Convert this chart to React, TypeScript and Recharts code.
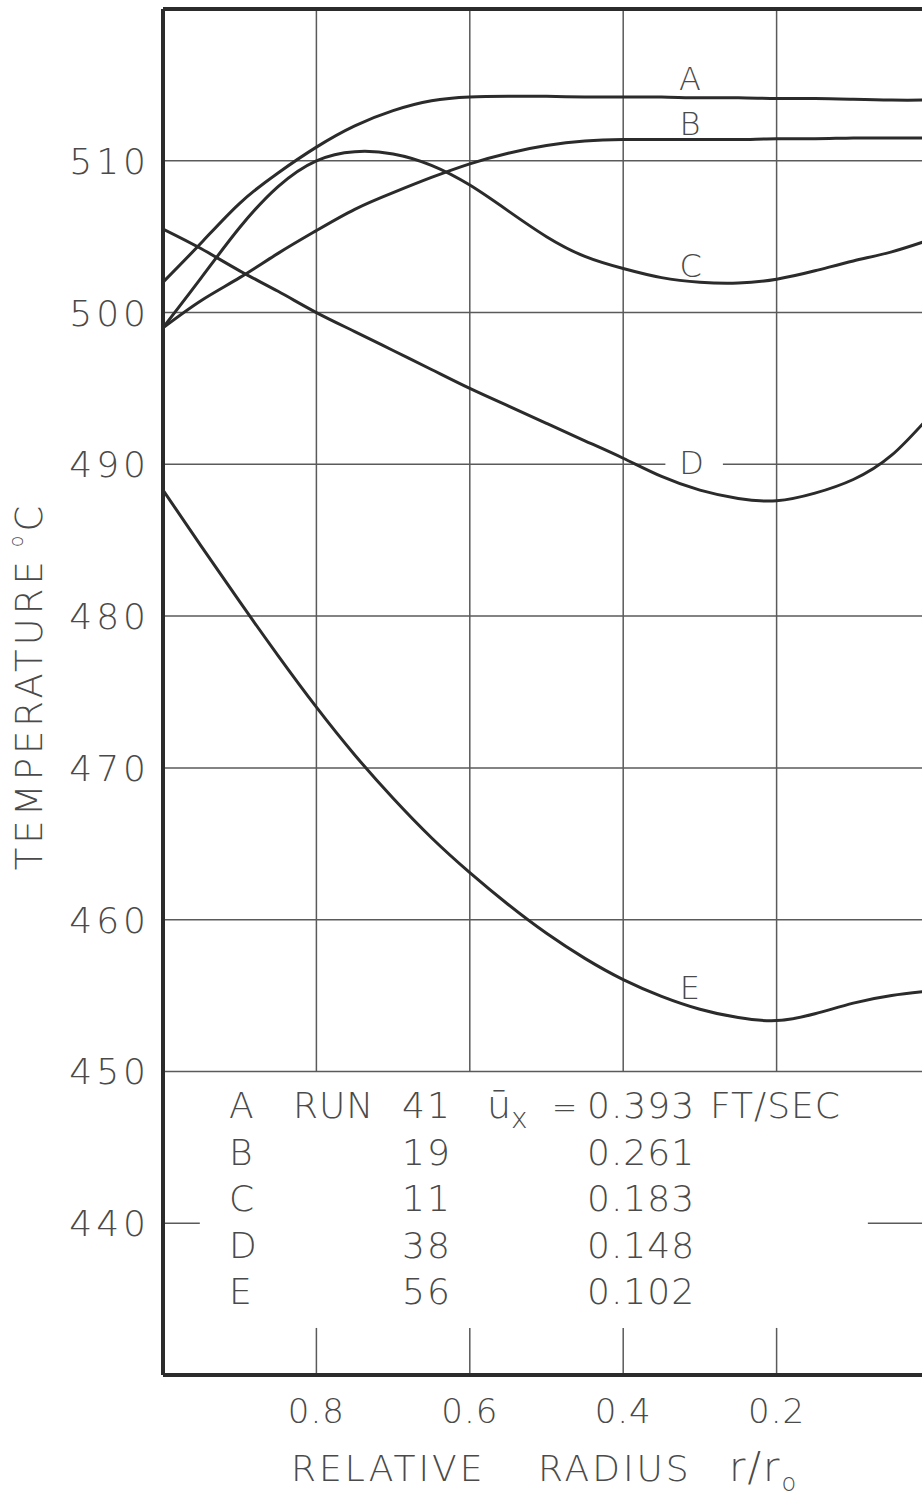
import React from 'react';
import { ComposedChart, Line, Scatter, XAxis, YAxis, ReferenceLine } from 'recharts';

// relative radius r/r0, shared by all five runs (left edge = wall, right = centre)
const radius = [1.0, 0.95, 0.9, 0.85, 0.8, 0.75, 0.7, 0.65, 0.6, 0.55, 0.5, 0.45, 0.4, 0.35, 0.3, 0.25, 0.2, 0.15, 0.1, 0.05, 0.0];

// temperature, deg C
const tempA = [502.0, 504.6, 507.2, 509.2, 510.9, 512.3, 513.3, 513.95, 514.2, 514.25, 514.25, 514.2, 514.2, 514.2, 514.15, 514.15, 514.1, 514.1, 514.05, 514.0, 514.0];
const tempB = [499.0, 500.8, 502.3, 503.9, 505.4, 506.8, 507.9, 508.9, 509.8, 510.5, 511.0, 511.3, 511.4, 511.4, 511.4, 511.4, 511.45, 511.45, 511.5, 511.5, 511.5];
const tempC = [499.0, 502.3, 505.6, 508.3, 510.0, 510.6, 510.45, 509.7, 508.4, 506.7, 505.0, 503.7, 502.9, 502.3, 502.0, 501.95, 502.2, 502.75, 503.4, 504.0, 504.8];
const tempD = [505.5, 504.2, 502.75, 501.4, 500.0, 498.75, 497.5, 496.25, 495.0, 493.85, 492.7, 491.55, 490.4, 489.2, 488.3, 487.75, 487.6, 488.1, 489.0, 490.6, 493.2];
const tempE = [488.3, 484.6, 480.95, 477.4, 474.0, 470.85, 468.0, 465.4, 463.1, 461.0, 459.1, 457.45, 456.05, 454.95, 454.1, 453.55, 453.35, 453.8, 454.5, 455.0, 455.3];

const curveKeys = ['A', 'B', 'C', 'D', 'E'];
const runNumbers = ['41', '19', '11', '38', '56'];
const velocities = ['0.393', '0.261', '0.183', '0.148', '0.102'];

// where the curve letters sit
const labelRadius = [0.313, 0.313, 0.312, 0.311, 0.313];
const labelTemp = [515.4, 512.4, 503.1, 490.1, 455.5];

const xTicks = [0.8, 0.6, 0.4, 0.2];
const yTicks = [440, 450, 460, 470, 480, 490, 500, 510];
const fullGridTemps = [450, 460, 470, 480, 500, 510];

const data = radius.map((r, i) => ({
  r,
  A: tempA[i],
  B: tempB[i],
  C: tempC[i],
  D: tempD[i],
  E: tempE[i],
}));
const letterData = curveKeys.map((k, i) => ({ r: labelRadius[i], t: labelTemp[i], name: k }));

const FONT = '"DejaVu Sans", sans-serif';
const INK = '#2b2b2b';
const TEXT = '#4a4a4a';
const GRID = '#5a5a5a';
const LIGHT = 200;

const YTick = ({ x, y, payload }: any) => (
  <text x={x - 13} y={y} dy={13} textAnchor="end" fontFamily={FONT} fontWeight={LIGHT} fontSize={36} letterSpacing={4} fill={TEXT}>
    {payload.value}
  </text>
);

const XTick = ({ x, y, payload }: any) => (
  <text x={x} y={y} dy={48} textAnchor="middle" fontFamily={FONT} fontWeight={LIGHT} fontSize={34} letterSpacing={1} fill={TEXT}>
    {payload.value.toFixed(1)}
  </text>
);

const LetterShape = (p: any) => (
  <text x={p.cx} y={p.cy} dy={11} textAnchor="middle" fontFamily={FONT} fontWeight={LIGHT} fontSize={32} fill={TEXT}>
    {p.payload.name}
  </text>
);

const seg = (r1: number, t1: number, r2: number, t2: number, key: string, w = 1.5, color = GRID) => (
  <ReferenceLine
    key={key}
    segment={[{ x: r1, y: t1 }, { x: r2, y: t2 }]}
    stroke={color}
    strokeWidth={w}
    ifOverflow="visible"
  />
);

export default function App() {
  const rowY = (i: number) => 1118 + i * 46.5;
  const txt = { fontFamily: FONT, fontWeight: LIGHT, fontSize: 36, fill: TEXT } as const;

  return (
    <div style={{ position: 'absolute', left: 0, top: 0, width: 922, height: 1500, overflow: 'hidden', background: '#fff' }}>
      <ComposedChart width={1010} height={1500} data={data} margin={{ top: 9, right: 80, bottom: 35, left: 0 }}>
        <XAxis
          type="number"
          dataKey="r"
          domain={[0, 1]}
          reversed
          ticks={xTicks}
          tick={<XTick />}
          tickLine={false}
          tickSize={0}
          tickMargin={0}
          height={90}
          axisLine={{ stroke: INK, strokeWidth: 4 }}
          allowDataOverflow
        />
        <YAxis
          type="number"
          domain={[430, 520]}
          ticks={yTicks}
          tick={<YTick />}
          tickLine={false}
          tickSize={0}
          tickMargin={0}
          width={163}
          axisLine={{ stroke: INK, strokeWidth: 4 }}
          allowDataOverflow
        />

        {fullGridTemps.map((t) => seg(1, t, 0, t, `h${t}`))}
        {seg(1, 490, 0.345, 490, 'h490a')}
        {seg(0.27, 490, 0, 490, 'h490b')}
        {seg(1, 440, 0.952, 440, 'h440a')}
        {seg(0.081, 440, 0, 440, 'h440b')}
        {xTicks.map((r) => seg(r, 450, r, 520, `v${r}`))}
        {xTicks.map((r) => seg(r, 430, r, 433.1, `s${r}`))}
        {seg(1, 520, 0, 520, 'top', 4, INK)}
        {seg(0, 430, 0, 520, 'right', 4, INK)}

        {curveKeys.map((k) => (
          <Line
            key={k}
            type="natural"
            dataKey={k}
            stroke={INK}
            strokeWidth={3}
            dot={false}
            activeDot={false}
            isAnimationActive={false}
          />
        ))}

        <Scatter data={letterData} dataKey="t" shape={<LetterShape />} isAnimationActive={false} />
      </ComposedChart>

      <svg width={922} height={1500} style={{ position: 'absolute', left: 0, top: 0, pointerEvents: 'none' }}>
        {/* run legend */}
        <text x={293} y={rowY(0)} {...txt} letterSpacing={1}>RUN</text>
        {curveKeys.map((k, i) => (
          <g key={k}>
            <text x={229} y={rowY(i)} {...txt}>{k}</text>
            <text x={402} y={rowY(i)} {...txt} letterSpacing={2}>{runNumbers[i]}</text>
            <text x={587} y={rowY(i)} {...txt} letterSpacing={1}>{velocities[i]}</text>
          </g>
        ))}
        <text x={487} y={rowY(0)} {...txt} fontSize={38}>
          ū<tspan fontSize={28} dy={10}>x</tspan>
        </text>
        <text x={552} y={rowY(0)} {...txt} fontSize={30}>=</text>
        <text x={710} y={rowY(0)} {...txt} letterSpacing={1}>FT/SEC</text>

        {/* axis titles */}
        <text x={291} y={1481} {...txt} letterSpacing={3}>RELATIVE</text>
        <text x={538} y={1481} {...txt} letterSpacing={3}>RADIUS</text>
        <text x={729} y={1481} {...txt} fontSize={40} letterSpacing={2}>
          r/r<tspan fontSize={24} dy={10}>o</tspan>
        </text>
        <text
          x={42}
          y={686}
          transform="rotate(-90 42 686)"
          textAnchor="middle"
          {...txt}
          fontSize={37}
          letterSpacing={4}
        >
          TEMPERATURE
          <tspan fontSize={19} dx={10} dy={-19}>o</tspan>
          <tspan dy={19}>C</tspan>
        </text>
      </svg>
    </div>
  );
}
